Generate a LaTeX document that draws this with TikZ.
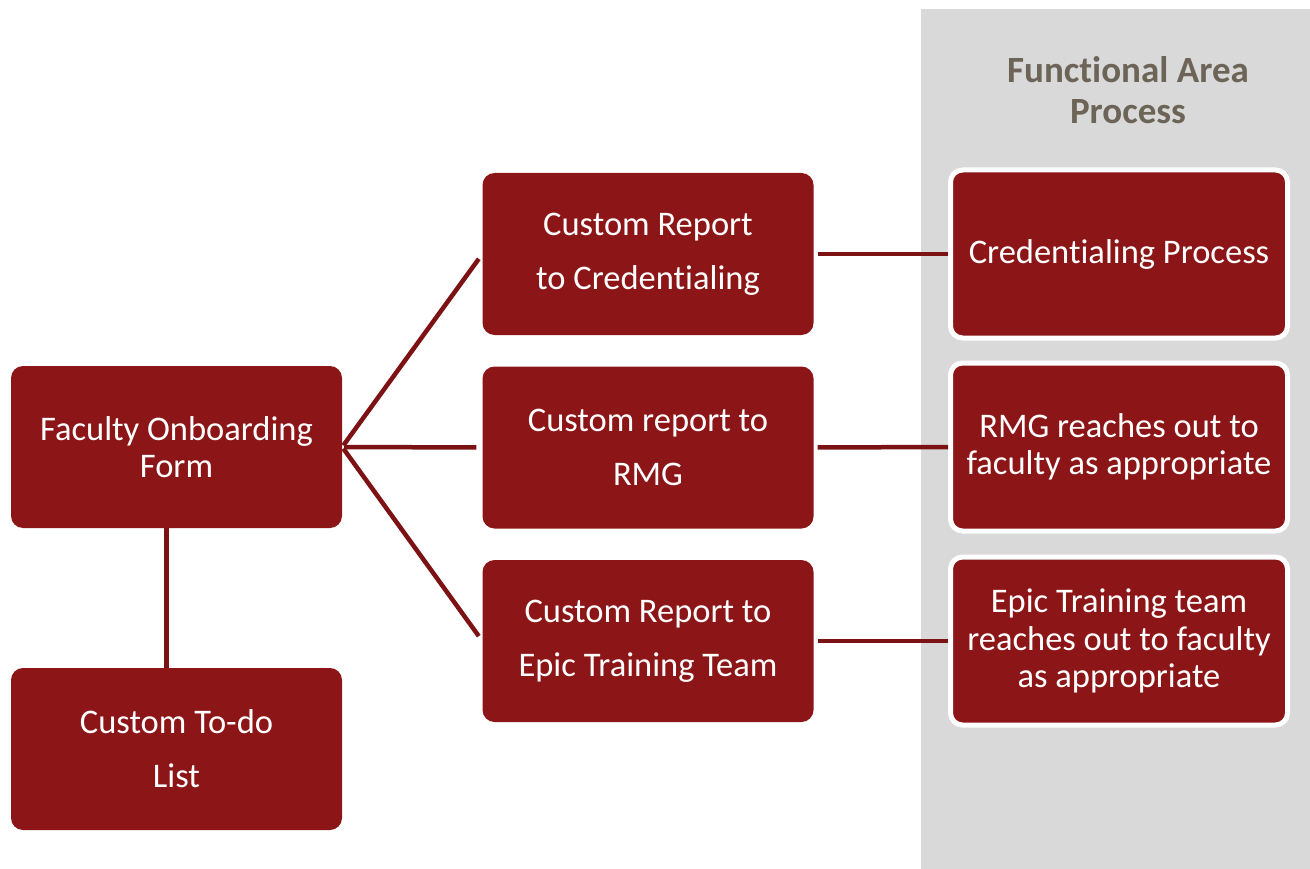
\documentclass[tikz,border=0pt]{standalone}
\usepackage{fontspec}
\setmainfont{Carlito}[Ligatures=NoCommon]
\usepackage{tikz}
\usepackage{xcolor}
\definecolor{boxred}{RGB}{140,22,23}
\definecolor{linered}{RGB}{125,18,20}
\definecolor{panelgray}{RGB}{217,217,217}
\definecolor{titlegray}{RGB}{108,100,86}
\tikzset{
  procbox/.style={rectangle, rounded corners=12pt, fill=boxred, text=white,
    minimum width=331pt, minimum height=162pt, align=center, inner sep=0pt},
  wide/.style={font=\fontsize{34.5}{54}\selectfont},
  tight/.style={font=\fontsize{34.5}{37.5}\selectfont},
  areabox/.style={procbox, draw=white, line width=5pt,
    minimum width=337pt, minimum height=168pt},
  link/.style={draw=linered, line width=4.5pt}
}
\begin{document}
\begin{tikzpicture}[x=1pt,y=-1pt]
  \useasboundingbox (0,0) rectangle (1310,869);
  % panel on the right
  \fill[panelgray] (921,9) rectangle (1310,869);
  \node[text=titlegray, align=center, font=\fontsize{37}{41}\selectfont\bfseries]
    (title) at (1128,90) {Functional Area\\Process};
  % left column
  \node[procbox, tight] (form) at (176.5,447) {Faculty Onboarding\\Form};
  \node[procbox, wide] (todo) at (176.5,749) {Custom To-do\\List};
  % reports
  \node[procbox, wide] (rep1) at (648,254) {Custom Report\\to Credentialing};
  \node[procbox, wide] (rep2) at (648,447.5) {Custom report to\\RMG};
  \node[procbox, wide] (rep3) at (648,641) {Custom Report to\\Epic Training Team};
  % functional area
  \node[areabox, tight] (proc1) at (1119,254) {Credentialing Process};
  \node[areabox, tight] (proc2) at (1119,447) {RMG reaches out to\\faculty as appropriate};
  \node[areabox, tight] (proc3) at (1119,641) {Epic Training team\\reaches out to faculty\\as appropriate};
  % connectors
  \foreach \r in {rep1,rep2,rep3}
    \draw[link, shorten <=2pt, shorten >=6pt] (form.east) -- (\r.west);
  \foreach \r/\p in {rep1/proc1,rep2/proc2,rep3/proc3}
    \draw[link, shorten <=4pt] (\r.east) -- (\p.west);
  \draw[link] ([xshift=-10pt]form.south) -- ([xshift=-10pt]todo.north);
\end{tikzpicture}
\end{document}
